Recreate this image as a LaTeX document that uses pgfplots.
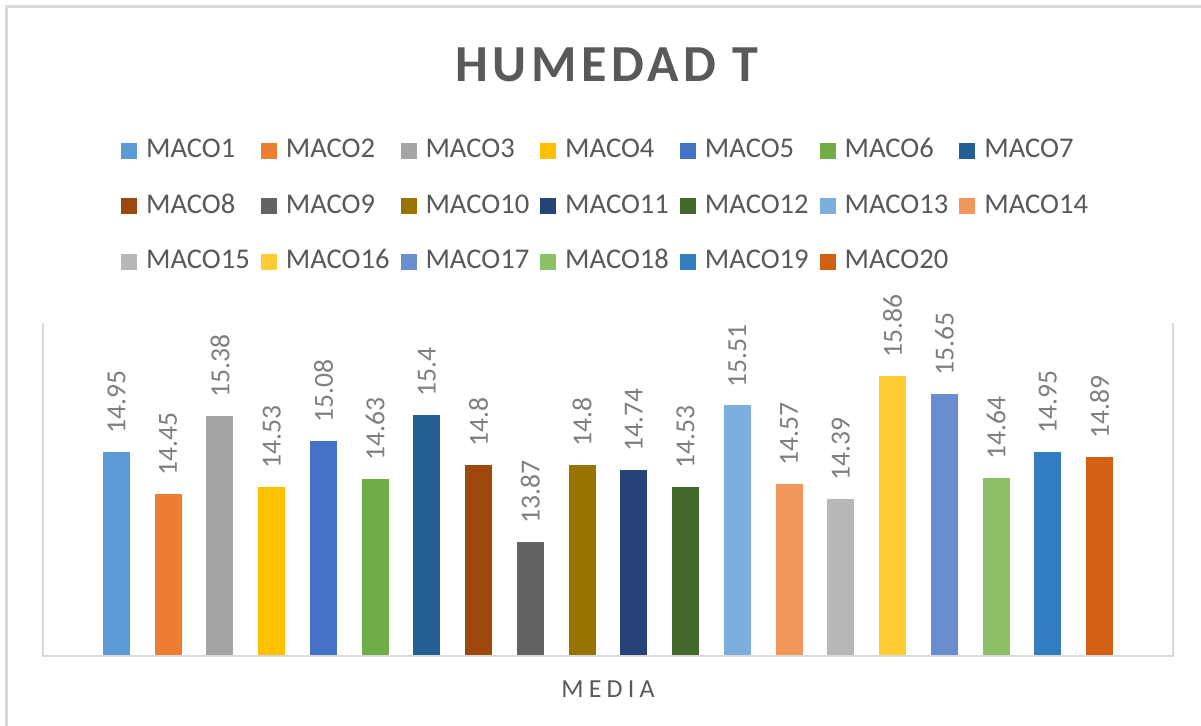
\documentclass[border=0pt]{standalone}
\usepackage{fontspec}
\setmainfont{Carlito}
\usepackage{pgfplots}
\pgfplotsset{compat=1.18}

\definecolor{c1}{HTML}{5B9BD5}
\definecolor{c2}{HTML}{ED7D31}
\definecolor{c3}{HTML}{A5A5A5}
\definecolor{c4}{HTML}{FFC000}
\definecolor{c5}{HTML}{4472C4}
\definecolor{c6}{HTML}{70AD47}
\definecolor{c7}{HTML}{255E91}
\definecolor{c8}{HTML}{9E480E}
\definecolor{c9}{HTML}{636363}
\definecolor{c10}{HTML}{997300}
\definecolor{c11}{HTML}{264478}
\definecolor{c12}{HTML}{43682B}
\definecolor{c13}{HTML}{7CAFDD}
\definecolor{c14}{HTML}{F1975A}
\definecolor{c15}{HTML}{B7B7B7}
\definecolor{c16}{HTML}{FFCD33}
\definecolor{c17}{HTML}{698ED0}
\definecolor{c18}{HTML}{8CC168}
\definecolor{c19}{HTML}{327DC2}
\definecolor{c20}{HTML}{D26012}
\definecolor{txt}{HTML}{595959}
\definecolor{lbl}{HTML}{7F7F7F}
\definecolor{gridc}{HTML}{D9D9D9}

\pgfplotsset{
  mybar/.style={ybar, bar width=13.5pt, bar shift=0pt, draw=none, fill=#1,
    legend image code/.code={\fill[#1] (0pt,-4pt) rectangle (8pt,4pt);}},
}

\begin{document}
\begin{tikzpicture}
\begin{axis}[
  name=ax,
  scale only axis,
  width=565pt, height=166.5pt,
  xmin=-0.42, xmax=21.42,
  ymin=12.5, ymax=16.5,
  axis line style={draw=none},
  ytick=\empty,
  xtick={10.5}, xticklabels={MEDIA},
  major tick length=0pt,
  xticklabel style={font=\fontsize{13}{15}\selectfont\addfontfeature{LetterSpace=20}, text=txt, yshift=-9pt},
  nodes near coords,
  /pgf/number format/assume math mode=true,
  every node near coord/.append style={rotate=90, anchor=west, inner xsep=9pt, inner ysep=0pt,
    font=\fontsize{13.8}{15}\selectfont, text=lbl},
  title={HUMEDAD T},
  title style={at={(0.499,1.739)}, anchor=center, text=txt,
    font=\fontsize{26}{30}\selectfont\bfseries\addfontfeature{LetterSpace=9}},
  legend columns=7,
  legend style={at={(0.497,1.351)}, anchor=center, draw=none,
    font=\fontsize{14.3}{16}\selectfont, text=txt,
    nodes={inner sep=0pt, text height=10pt, text depth=3pt},
    row sep=14.75pt, column sep=0pt,
    /tikz/every odd column/.append style={column sep=4.5pt},
    /tikz/every even column/.append style={column sep=5.5pt}},
  legend cell align=left,
  clip=false,
]
\addplot[mybar=c1]  coordinates {(1,14.95)};  \addlegendentry{MACO1}
\addplot[mybar=c2]  coordinates {(2,14.45)};  \addlegendentry{MACO2}
\addplot[mybar=c3]  coordinates {(3,15.38)};  \addlegendentry{MACO3}
\addplot[mybar=c4]  coordinates {(4,14.53)};  \addlegendentry{MACO4}
\addplot[mybar=c5]  coordinates {(5,15.08)};  \addlegendentry{MACO5}
\addplot[mybar=c6]  coordinates {(6,14.63)};  \addlegendentry{MACO6}
\addplot[mybar=c7]  coordinates {(7,15.4)};   \addlegendentry{MACO7}
\addplot[mybar=c8]  coordinates {(8,14.8)};   \addlegendentry{MACO8}
\addplot[mybar=c9]  coordinates {(9,13.87)};  \addlegendentry{MACO9}
\addplot[mybar=c10] coordinates {(10,14.8)};  \addlegendentry{MACO10}
\addplot[mybar=c11] coordinates {(11,14.74)}; \addlegendentry{MACO11}
\addplot[mybar=c12] coordinates {(12,14.53)}; \addlegendentry{MACO12}
\addplot[mybar=c13] coordinates {(13,15.51)}; \addlegendentry{MACO13}
\addplot[mybar=c14] coordinates {(14,14.57)}; \addlegendentry{MACO14}
\addplot[mybar=c15] coordinates {(15,14.39)}; \addlegendentry{MACO15}
\addplot[mybar=c16] coordinates {(16,15.86)}; \addlegendentry{MACO16}
\addplot[mybar=c17] coordinates {(17,15.65)}; \addlegendentry{MACO17}
\addplot[mybar=c18] coordinates {(18,14.64)}; \addlegendentry{MACO18}
\addplot[mybar=c19] coordinates {(19,14.95)}; \addlegendentry{MACO19}
\addplot[mybar=c20] coordinates {(20,14.89)}; \addlegendentry{MACO20}
% axis frame (left, bottom, right)
\draw[gridc, line width=0.9pt] (rel axis cs:0,1) -- (rel axis cs:0,0) -- (rel axis cs:1,0) -- (rel axis cs:1,1);
\end{axis}
% outer chart border (only top and left visible)
\draw[gridc, line width=1.5pt]
  ([shift={(-18.25pt,-35pt)}]ax.south west) -- ([shift={(-18.25pt,158.25pt)}]ax.south west |- ax.north west)
  -- ([shift={(14pt,158.25pt)}]ax.north east);
\pgfresetboundingbox
\path ([shift={(-21.5pt,-35pt)}]ax.south west) rectangle ([shift={(14pt,161.5pt)}]ax.north east);
\end{tikzpicture}
\end{document}
